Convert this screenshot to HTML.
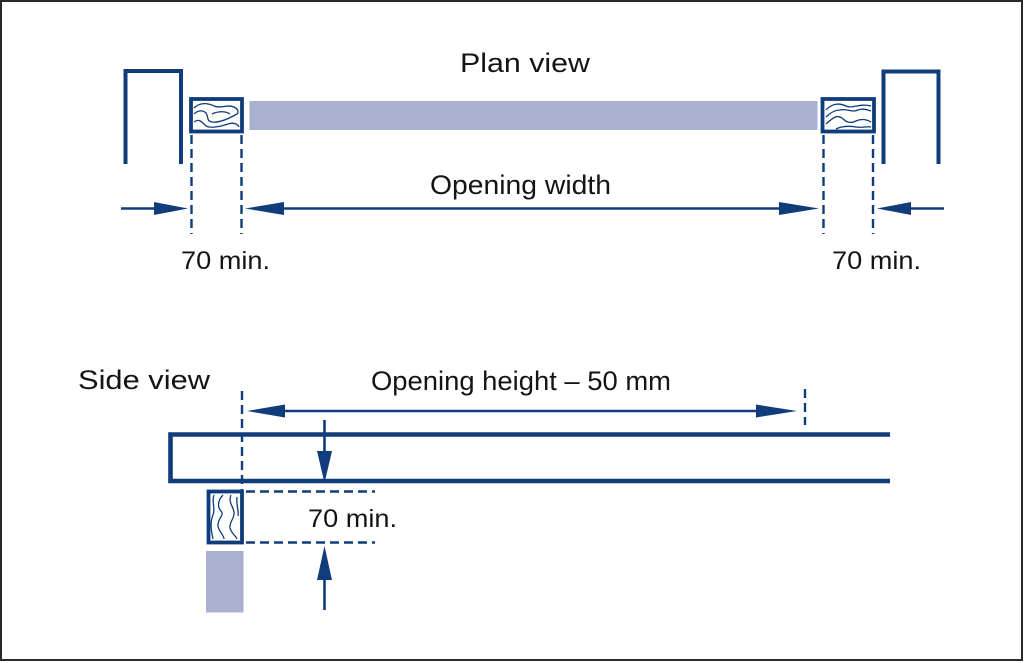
<!DOCTYPE html>
<html><head><meta charset="utf-8"><style>
html,body{margin:0;padding:0;background:#fff;}
svg{display:block;}
text{font-family:"Liberation Sans",sans-serif;fill:#141414;}
</style></head><body>
<svg width="1024" height="663" viewBox="0 0 1024 663" xmlns="http://www.w3.org/2000/svg">
<rect x="0" y="0" width="1024" height="663" fill="#fff"/>
<rect x="1" y="1" width="1021" height="659" fill="none" stroke="#2a2a2a" stroke-width="2"/>
<g stroke="#103c7b" fill="none">
 <!-- walls -->
 <polyline points="125.5,164 125.5,71 181,71 181,164" stroke-width="4"/>
 <polyline points="883.5,164 883.5,71.5 938.5,71.5 938.5,164" stroke-width="4"/>
 <!-- timber boxes plan -->
 <rect x="191" y="99" width="51" height="32.5" stroke-width="3.8"/>
 <rect x="822.5" y="99" width="51.5" height="32.5" stroke-width="3.8"/>
 <!-- grain left -->
 <g stroke-width="1.3">
  <path d="M194,108 C200,102 208,103 214,106 C220,109 228,104 234,107 C238,109 239,112 237,114"/>
  <path d="M194,114 C198,110 203,110 206,113 C209,117 206,121 212,122 C220,123 230,118 237,114"/>
  <path d="M194,122 C199,118 202,122 206,126 C212,129 222,126 228,124 C233,122 238,124 239,127"/>
  <path d="M212,114 C218,111 226,111 230,114"/>
 </g>
 <!-- grain right -->
 <g stroke-width="1.3">
  <path d="M826,110 C832,103 840,103 846,106 C852,109 860,103 871,106"/>
  <path d="M826,117 C831,112 836,110 840,110 C846,108 852,113 858,110 C863,108 868,110 871,111"/>
  <path d="M826,124 C832,119 836,114 842,118 C846,122 850,124 856,121 C862,118 868,120 871,122"/>
  <path d="M836,129 C842,126 850,126 856,127 C862,128 868,126 871,127"/>
 </g>
 <!-- dashed -->
 <g stroke-width="2.4" stroke-dasharray="9 5">
  <line x1="191.5" y1="135" x2="191.5" y2="234"/>
  <line x1="241.5" y1="135" x2="241.5" y2="234"/>
  <line x1="823.5" y1="135" x2="823.5" y2="234"/>
  <line x1="873" y1="135" x2="873" y2="234"/>
  <line x1="242" y1="391" x2="242" y2="492"/>
  <line x1="805" y1="389" x2="805" y2="425"/>
  <line x1="246" y1="491.5" x2="375" y2="491.5"/>
  <line x1="246" y1="542.5" x2="375" y2="542.5"/>
 </g>
 <!-- arrow lines -->
 <g stroke-width="2.6">
  <line x1="121" y1="208.5" x2="160" y2="208.5"/>
  <line x1="270" y1="208.5" x2="800" y2="208.5"/>
  <line x1="905" y1="208.5" x2="944" y2="208.5"/>
  <line x1="270" y1="411" x2="770" y2="411"/>
  <line x1="324.5" y1="420" x2="324.5" y2="460"/>
  <line x1="324.5" y1="570" x2="324.5" y2="610"/>
 </g>
 <!-- beam -->
 <polyline points="890,434.5 170.5,434.5 170.5,481 890,481" stroke-width="4.6"/>
 <!-- side timber -->
 <rect x="208.5" y="491.5" width="33.5" height="51" stroke-width="3.8"/>
 <g stroke-width="1.3">
  <path d="M214,495 C211,502 216,508 213,515 C210,522 211,530 213,539"/>
  <path d="M223,495 C218,500 217,507 221,511 C225,515 217,519 218,526 C219,532 224,535 224,539"/>
  <path d="M231,495 C228,502 233,506 234,512 C235,518 229,522 230,528 C231,533 236,536 237,539"/>
  <path d="M237,497 C236,505 239,510 238,516"/>
 </g>
</g>
<!-- bar -->
<rect x="249.5" y="101" width="568" height="29" fill="#aab1d0"/>
<rect x="206" y="551" width="37.5" height="61.5" fill="#aab1d0"/>
<!-- arrowheads -->
<g fill="#103c7b">
 <polygon points="188,208.5 154,202 154,215"/>
 <polygon points="245,208.5 284,202 284,215"/>
 <polygon points="819,208.5 779,202 779,215"/>
 <polygon points="877,208.5 911,202 911,215"/>
 <polygon points="247,411 285,404.5 285,417.5"/>
 <polygon points="797,411 756,404.5 756,417.5"/>
 <polygon points="324.5,483 317,451 332,451"/>
 <polygon points="324.5,546 317,580 332,580"/>
</g>
<!-- text -->
<text x="460" y="72" font-size="27" textLength="130" lengthAdjust="spacingAndGlyphs">Plan view</text>
<text x="430" y="194" font-size="27" textLength="181" lengthAdjust="spacingAndGlyphs">Opening width</text>
<text x="181" y="269" font-size="25" textLength="89" lengthAdjust="spacingAndGlyphs">70 min.</text>
<text x="832" y="269" font-size="25" textLength="89" lengthAdjust="spacingAndGlyphs">70 min.</text>
<text x="78" y="389" font-size="27" textLength="132" lengthAdjust="spacingAndGlyphs">Side view</text>
<text x="371" y="390" font-size="27" textLength="300" lengthAdjust="spacingAndGlyphs">Opening height – 50 mm</text>
<text x="308" y="527" font-size="25" textLength="89" lengthAdjust="spacingAndGlyphs">70 min.</text>
</svg>
</body></html>
